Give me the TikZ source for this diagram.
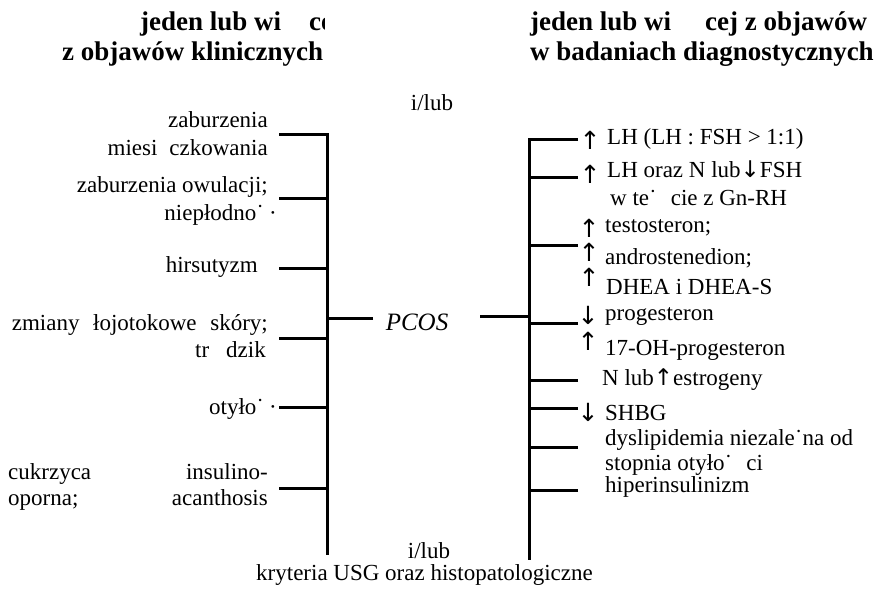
\documentclass[tikz,border=0pt]{standalone}
\usepackage{fontspec}
\setmainfont{Liberation Serif}
\newfontfamily\arrowfont{DejaVu Sans}
\newcommand{\arrup}{{\arrowfont ↑}}
\newcommand{\arrdn}{{\arrowfont ↓}}
\begin{document}
\begin{tikzpicture}[x=1pt,y=-1pt,
  bar/.style={line width=3pt},
  txt/.style={inner sep=0pt, font=\fontsize{23}{25}\selectfont},
  ttl/.style={inner sep=0pt, font=\fontsize{27}{30}\selectfont\bfseries},
  arr/.style={inner sep=0pt, font=\fontsize{25}{27}\selectfont\arrowfont}]
\useasboundingbox (0,0) rectangle (881,594);

% headings (cut at the frame edge)
\begin{scope}
  \clip (0,0) rectangle (324,80);
  \node[ttl, anchor=base west] (tl1) at (140,31) {jeden lub wi\hspace{28pt}ce};
  \node[ttl, anchor=base west] (tl2) at (62,61) {z objawów klinicznych};
\end{scope}
\begin{scope}
  \clip (500,0) rectangle (868,40);
  \node[ttl, anchor=base west] (tr1) at (530,31) {jeden lub wi\hspace{34pt}cej z objawów};
\end{scope}
\node[ttl, anchor=base west] (tr2) at (530,61) {w badaniach diagnostycznych};

\node[txt] (ilub1) at (432,103) {i/lub};
\node[txt] (ilub2) at (429,551) {i/lub};
\node[txt, anchor=mid east] (usg) at (593,578) {kryteria USG oraz histopatologiczne};

% left spine and branches
\coordinate (lt) at (327,134);
\coordinate (lb) at (327,555);
\coordinate (a1) at (279,134);
\coordinate (a2) at (279,198);
\coordinate (a3) at (279,268);
\coordinate (a4) at (279,338);
\coordinate (a5) at (279,407);
\coordinate (a6) at (279,488);
\draw[bar] (a1) -- (lt) -- (lb);
\foreach \c in {a2,a3,a4,a5,a6} \draw[bar] (\c) -- (\c -| lt);

\node[txt, anchor=mid east] (s1a) at (268,125) {zaburzenia};
\node[txt, anchor=mid east] (s1b) at (268,153) {miesi\hspace{12pt}czkowania};
\node[txt, anchor=mid east] (s2a) at (268,190) {zaburzenia owulacji;};
\node[txt, anchor=mid east] (s2b) at (277,218) {niepłodno˙\hspace{5pt}·};
\node[txt, anchor=mid east] (s3) at (258,270) {hirsutyzm};
\node[txt, anchor=mid east] (s4a) at (268,328) {\hbox to 256pt{zmiany\hfill łojotokowe\hfill skóry;}};
\node[txt, anchor=mid east] (s4b) at (266,355) {tr\hspace{17pt}dzik};
\node[txt, anchor=mid east] (s5) at (277,412) {otyło˙\hspace{5pt}·};
\node[txt, anchor=mid west] (s6a) at (8,477) {cukrzyca};
\node[txt, anchor=mid east] (s6b) at (268,477) {insulino-};
\node[txt, anchor=mid west] (s6c) at (8,503) {oporna;};
\node[txt, anchor=mid east] (s6d) at (268,503) {acanthosis};

% centre
\node[txt, font=\fontsize{25}{27}\selectfont\itshape] (pcos) at (417,322) {PCOS};
\coordinate (pl) at (373,318);
\draw[bar] (pl) -- (pl -| lt);

% right spine and branches
\coordinate (rt) at (529,139);
\coordinate (rb) at (529,560);
\coordinate (pr) at (480,316);
\draw[bar] (pr) -- (pr -| rt);
\coordinate (b1) at (578,139);
\coordinate (b2) at (578,177);
\coordinate (b3) at (578,245);
\coordinate (b4) at (578,323);
\coordinate (b5) at (578,380);
\coordinate (b6) at (578,408);
\coordinate (b7) at (578,447);
\coordinate (b8) at (578,490);
\draw[bar] (b1) -- (rt) -- (rb);
\foreach \c in {b2,b3,b4,b5,b6,b7,b8} \draw[bar] (\c) -- (\c -| rt);

\node[arr] (u1) at (590,140) {↑};
\node[txt, anchor=mid west] (r1) at (607,142) {LH (LH : FSH > 1:1)};
\node[arr] (u2) at (590,174) {↑};
\node[txt, anchor=mid west] (r2) at (607,175) {LH oraz N lub\arrdn FSH};
\node[txt, anchor=mid west] (r3) at (610,203) {w te˙\hspace{14pt}cie z Gn-RH};
\node[arr] (u3) at (589,228) {↑};
\node[txt, anchor=mid west] (r4) at (605,230) {testosteron;};
\node[arr] (u4) at (589,252) {↑};
\node[txt, anchor=mid west] (r5) at (605,262) {androstenedion;};
\node[arr] (u5) at (589,277) {↑};
\node[txt, anchor=mid west] (r6) at (606,292) {DHEA i DHEA-S};
\node[arr] (d1) at (588,315) {↓};
\node[txt, anchor=mid west] (r7) at (605,318) {progesteron};
\node[arr] (u6) at (588,341) {↑};
\node[txt, anchor=mid west] (r8) at (605,353) {17-OH-progesteron};
\node[txt, anchor=mid west] (r9) at (602,383) {N lub\arrup estrogeny};
\node[arr] (d2) at (588,412) {↓};
\node[txt, anchor=mid west] (r10) at (605,418) {SHBG};
\node[txt, anchor=mid west] (r11) at (605,443) {dyslipidemia niezale˙na od};
\node[txt, anchor=mid west] (r12) at (605,468) {stopnia otyło˙\hspace{14pt}ci};
\node[txt, anchor=mid west] (r13) at (605,490) {hiperinsulinizm};
\end{tikzpicture}
\end{document}
